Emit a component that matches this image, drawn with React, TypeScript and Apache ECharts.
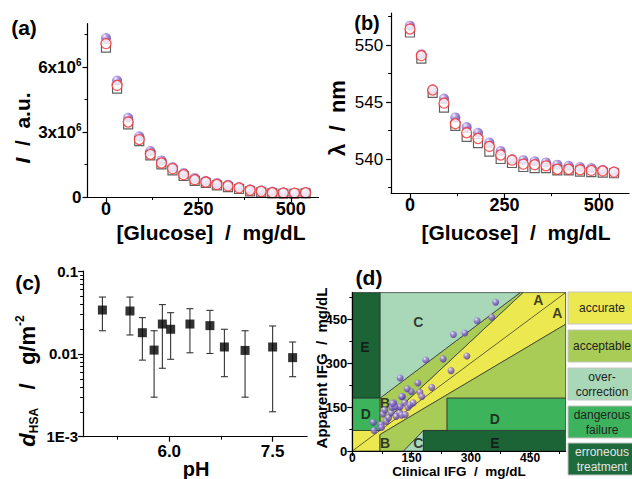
import React, { useEffect, useRef } from 'react';
import * as echarts from 'echarts';

// ---------- data ----------
const glucose = [0, 30, 60, 90, 120, 150, 180, 210, 240, 270, 300, 330, 360, 390, 420, 450, 480, 510, 540];
// (a) intensity in units of 10^6 a.u.
const intensityPurple = [7.34, 5.38, 3.66, 2.8, 2.12, 1.69, 1.38, 1.11, 0.88, 0.75, 0.65, 0.57, 0.46, 0.35, 0.31, 0.25, 0.22, 0.2, 0.22];
const intensityRed = [7.08, 5.15, 3.46, 2.65, 1.97, 1.57, 1.31, 1.03, 0.8, 0.69, 0.58, 0.51, 0.42, 0.31, 0.26, 0.2, 0.18, 0.18, 0.2];
const intensitySquare = [6.9, 5.0, 3.35, 2.58, 1.92, 1.51, 1.23, 0.97, 0.74, 0.65, 0.54, 0.46, 0.37, 0.26, 0.22, 0.17, 0.15, 0.15, 0.17];
// (b) wavelength, nm
const lambdaPurple = [551.7, 549.2, 546.1, 545.3, 543.65, 542.8, 542.3, 541.45, 540.7, 540.0, 539.9, 539.8, 539.7, 539.5, 539.4, 539.3, 539.2, 539.05, 538.9];
const lambdaRed = [551.4, 549.06, 546.05, 544.9, 543.1, 542.3, 541.8, 541.1, 540.35, 539.9, 539.55, 539.5, 539.4, 539.1, 539.1, 539.05, 539.0, 538.95, 538.85];
const lambdaSquare = [551.1, 548.8, 545.8, 544.5, 542.9, 541.95, 541.4, 540.65, 540.0, 539.65, 539.3, 539.2, 539.2, 539.0, 539.0, 538.9, 538.85, 538.8, 538.75];
// (c)
const pH = [5.03, 5.43, 5.61, 5.78, 5.9, 6.02, 6.3, 6.59, 6.8, 7.1, 7.5, 7.79];
const dHSA = [0.0338, 0.0329, 0.018, 0.0111, 0.0229, 0.0198, 0.0229, 0.0219, 0.0121, 0.011, 0.0121, 0.009];
const dHSAHigh = [0.0485, 0.0485, 0.0274, 0.019, 0.0393, 0.0314, 0.0351, 0.0335, 0.0198, 0.019, 0.0217, 0.0139];
const dHSALow = [0.019, 0.0169, 0.0084, 0.003, 0.0067, 0.0086, 0.0103, 0.0101, 0.0053, 0.003, 0.002, 0.0053];
// (d)
const clinicalIFG = [53, 55, 73, 74, 78, 82, 86, 92, 99, 100, 105, 111, 116, 120, 121, 125, 127, 133, 134, 141, 146, 149, 154, 139, 166, 171, 176, 121, 201, 186, 230, 250, 290, 256, 285, 316, 353, 363, 108, 102, 125];
const apparentIFG = [98, 70, 90, 80, 126, 140, 101, 113, 130, 149, 164, 118, 147, 130, 150, 122, 186, 164, 124, 149, 157, 203, 164, 212, 232, 200, 186, 249, 217, 310, 314, 274, 324, 397, 402, 444, 456, 507, 151, 162, 185];
const zoneColors = ['#ece84f', '#a9cc57', '#a8d8b8', '#1c6336', '#3db35c', '#a9cc57', '#a8d8b8', '#1c6336', '#3db35c'];
const zoneShapes = [
  [[0, 0], [70, 0], [70, 56], [540, 432], [540, 540], [432, 540], [70, 85], [70, 70], [0, 70]],
  [[70, 0], [130, 0], [180, 70], [240, 70], [240, 180], [540, 180], [540, 432], [70, 56]],
  [[130, 0], [180, 0], [180, 70]],
  [[180, 0], [540, 0], [540, 70], [180, 70]],
  [[240, 70], [540, 70], [540, 180], [240, 180]],
  [[70, 85], [432, 540], [425, 540], [70, 180]],
  [[70, 180], [425, 540], [70, 540]],
  [[0, 180], [70, 180], [70, 540], [0, 540]],
  [[0, 70], [70, 70], [70, 180], [0, 180]],
];
const zoneLabelText = ['C', 'E', 'B', 'D', 'B', 'C', 'D', 'E', 'A', 'A'];
const zoneLabelPos = [[167, 441], [32, 356], [83, 165], [34, 126], [83, 28], [167, 28], [361, 109], [361, 28], [471, 515], [519, 469]];
const legendLabels = ['accurate', 'acceptable', 'over-\ncorrection', 'dangerous\nfailure', 'erroneous\ntreatment'];
const legendColors = ['#ece84f', '#a9cc57', '#a8d8b8', '#3eb35e', '#1d6a3b'];
const legendTextColors = ['#222', '#222', '#222', '#222', '#e4e4e4'];

const FONT = '"Liberation Sans", Arial, sans-serif';

const sphere = () =>
  new echarts.graphic.RadialGradient(0.35, 0.3, 0.75, [
    { offset: 0, color: '#f4f0ff' },
    { offset: 0.35, color: '#9a80da' },
    { offset: 1, color: '#4a2d92' },
  ]);

function axisPair(kind: 'x' | 'y', gridIndex: number, type: string, min: number, max: number, major: number[], minor: number[], label: any) {
  const pos = kind === 'x' ? 'bottom' : 'left';
  const base: any = { type, gridIndex, min, max, position: pos, splitLine: { show: false }, z: 10 };
  if (type === 'log') base.logBase = 10;
  const main = {
    ...base,
    axisLine: { show: true, onZero: false, lineStyle: { color: '#000', width: 1.2 } },
    axisTick: { show: true, customValues: major, length: 5, lineStyle: { color: '#000', width: 1.2 } },
    axisLabel: { customValues: major, fontFamily: FONT, color: '#000', ...label },
  };
  const sub = {
    ...base,
    axisLine: { show: false, onZero: false },
    axisTick: { show: true, customValues: minor, length: 3, lineStyle: { color: '#000', width: 1 } },
    axisLabel: { show: false },
  };
  return [main, sub];
}

export default function App() {
  const ref = useRef<HTMLDivElement>(null);
  useEffect(() => {
    if (!ref.current) return;
    const chart = echarts.init(ref.current, undefined, { renderer: 'svg' });

    const supRich = {
      b: { fontSize: 17, fontWeight: 'bold', fontFamily: FONT, color: '#000', lineHeight: 20, verticalAlign: 'middle' },
      s: { fontSize: 10, fontWeight: 'bold', fontFamily: FONT, color: '#000', lineHeight: 10, verticalAlign: 'top' },
    };

    const xa = axisPair('x', 0, 'value', -50, 575, [0, 250, 500], [125, 375], { fontSize: 18, fontWeight: 'bold', margin: 3 });
    const ya = axisPair('y', 0, 'value', 0, 8, [0, 3, 6], [1.5, 4.5, 7.5], {
      margin: 6,
      formatter: (v: number) => (v === 0 ? '{b|0}' : `{b|${v}x10}{s|6}`),
      rich: supRich,
    });
    const xb = axisPair('x', 1, 'value', -50, 580, [0, 250, 500], [125, 375], { fontSize: 18, fontWeight: 'bold', margin: 3 });
    const yb = axisPair('y', 1, 'value', 537, 552.8, [540, 545, 550], [537.5, 542.5, 547.5, 552.5], { fontSize: 17, margin: 8 });
    const xc = axisPair('x', 2, 'value', 4.75, 8.0, [6.0, 7.5], [5.25, 6.75], {
      fontSize: 17, fontWeight: 'bold', margin: 6, formatter: (v: number) => v.toFixed(1),
    });
    const logMinor: number[] = [];
    [0.001, 0.01].forEach((d) => { for (let k = 2; k <= 9; k++) logMinor.push(+(d * k).toPrecision(3)); });
    const yc = axisPair('y', 2, 'log', 0.001, 0.1, [0.001, 0.01, 0.1], logMinor, {
      fontSize: 15, fontWeight: 'bold', margin: 5,
      formatter: (v: number) => (v < 0.005 ? '1E-3' : v < 0.05 ? '0.01' : '0.1'),
    });
    const xd = axisPair('x', 3, 'value', 0, 540, [0, 150, 300, 450], [75, 225, 375, 525], { fontSize: 12, lineHeight: 12, fontWeight: 'bold', margin: 1 });
    const yd = axisPair('y', 3, 'value', 0, 540, [0, 150, 300, 450], [75, 225, 375, 525], { fontSize: 13, fontWeight: 'bold', margin: 5 });

    const openCircle = { color: '#fff', borderColor: '#ff2a2a', borderWidth: 1.3 };
    const openSquare = { color: '#fff', borderColor: '#3a3a3a', borderWidth: 1.2 };

    const triple = (xi: number, yi: number, sq: number[], pu: number[], rd: number[]) => [
      { type: 'scatter', xAxisIndex: xi, yAxisIndex: yi, symbol: 'rect', symbolSize: 9, itemStyle: openSquare, data: glucose.map((g, i) => [g, sq[i]]), z: 3 },
      { type: 'scatter', xAxisIndex: xi, yAxisIndex: yi, symbol: 'circle', symbolSize: 10, itemStyle: { color: sphere() }, data: glucose.map((g, i) => [g, pu[i]]), z: 4 },
      { type: 'scatter', xAxisIndex: xi, yAxisIndex: yi, symbol: 'circle', symbolSize: 10, itemStyle: openCircle, data: glucose.map((g, i) => [g, rd[i]]), z: 5 },
    ];

    const bold = (size: number) => ({ fontSize: size, fontWeight: 'bold', fontFamily: FONT, fill: '#000' });

    const textEl = (text: string, x: number, y: number, size: number, extra: any = {}) => ({
      type: 'text', x, y, z: 20,
      style: { text, ...bold(size), align: 'center', verticalAlign: 'middle', ...extra },
    });

    const graphics: any[] = [
      textEl('(a)', 24, 27, 21),
      textEl('(b)', 367, 23, 20),
      textEl('(c)', 28, 282, 21),
      textEl('(d)', 369, 277, 21),
      textEl('[Glucose]  /  mg/dL', 211, 232, 21),
      textEl('[Glucose]  /  mg/dL', 516, 232, 21),
      textEl('pH', 196, 469, 20),
      textEl('Clinical IFG  /  mg/dL', 459, 471.5, 13.5, { lineHeight: 13 }),
      {
        type: 'text', x: 22, y: 128, rotation: Math.PI / 2, z: 20,
        style: {
          text: '{i|I}{n|  /  a.u.}', align: 'center', verticalAlign: 'middle',
          rich: {
            i: { fontSize: 21, fontWeight: 'bold', fontStyle: 'italic', fontFamily: FONT, fill: '#000' },
            n: { fontSize: 21, fontWeight: 'bold', fontFamily: FONT, fill: '#000' },
          },
        },
      },
      {
        type: 'text', x: 337, y: 118, rotation: Math.PI / 2, z: 20,
        style: { text: 'λ  /  nm', ...bold(22), align: 'center', verticalAlign: 'middle' },
      },
      {
        type: 'text', x: 27, y: 381, rotation: Math.PI / 2, z: 20,
        style: {
          text: '{d|d}{sub|HSA}{n|   /   g/m}{sup|-2}', align: 'center', verticalAlign: 'middle',
          rich: {
            d: { fontSize: 22, fontWeight: 'bold', fontStyle: 'italic', fontFamily: FONT, fill: '#000', lineHeight: 26, verticalAlign: 'middle' },
            sub: { fontSize: 12, fontWeight: 'bold', fontFamily: FONT, fill: '#000', lineHeight: 12, verticalAlign: 'bottom' },
            n: { fontSize: 22, fontWeight: 'bold', fontFamily: FONT, fill: '#000', lineHeight: 26, verticalAlign: 'middle' },
            sup: { fontSize: 12, fontWeight: 'bold', fontFamily: FONT, fill: '#000', lineHeight: 12, verticalAlign: 'top' },
          },
        },
      },
      {
        type: 'text', x: 321, y: 368, rotation: Math.PI / 2, z: 20,
        style: { text: 'Apparent IFG  /  mg/dL', ...bold(15), align: 'center', verticalAlign: 'middle' },
      },
    ];
    const boxTops = [292, 330, 368, 406, 443];
    legendLabels.forEach((lab, i) => {
      graphics.push({
        type: 'rect', z: 15, shape: { x: 568, y: boxTops[i], width: 72, height: 32 },
        style: { fill: legendColors[i], stroke: '#c4c4c4', lineWidth: 1 },
      });
      graphics.push({
        type: 'text', x: 602, y: boxTops[i] + 16, z: 16,
        style: { text: lab, fontSize: 12, fontFamily: FONT, fill: legendTextColors[i], align: 'center', verticalAlign: 'middle', lineHeight: 15 },
      });
    });

    const option: any = {
      animation: false,
      backgroundColor: '#fff',
      grid: [
        { left: 87.5, top: 23.7, width: 231, height: 173.3, outerBoundsMode: 'none' },
        { left: 391.1, top: 13.1, width: 238, height: 180.1, outerBoundsMode: 'none' },
        { left: 83.1, top: 271, width: 224, height: 165.7, outerBoundsMode: 'none' },
        { left: 352.3, top: 292.6, width: 213.3, height: 158.4, outerBoundsMode: 'none' },
      ],
      xAxis: [...xa, ...xb, ...xc, ...xd],
      yAxis: [...ya, ...yb, ...yc, ...yd],
      graphic: graphics,
      series: [
        ...triple(0, 0, intensitySquare, intensityPurple, intensityRed),
        ...triple(2, 2, lambdaSquare, lambdaPurple, lambdaRed),
        {
          type: 'custom', xAxisIndex: 4, yAxisIndex: 4, z: 3,
          data: pH.map((p, i) => [p, dHSALow[i], dHSAHigh[i]]),
          renderItem: (params: any, api: any) => {
            const x = api.value(0);
            const lo = api.coord([x, api.value(1)]);
            const hi = api.coord([x, api.value(2)]);
            const w = 3.5;
            const st = { stroke: '#333', lineWidth: 1.1 };
            return {
              type: 'group',
              children: [
                { type: 'line', shape: { x1: hi[0], y1: hi[1], x2: lo[0], y2: lo[1] }, style: st },
                { type: 'line', shape: { x1: hi[0] - w, y1: hi[1], x2: hi[0] + w, y2: hi[1] }, style: st },
                { type: 'line', shape: { x1: lo[0] - w, y1: lo[1], x2: lo[0] + w, y2: lo[1] }, style: st },
              ],
            };
          },
        },
        {
          type: 'scatter', xAxisIndex: 4, yAxisIndex: 4, symbol: 'rect', symbolSize: 9, z: 4,
          itemStyle: { color: '#000' }, data: pH.map((p, i) => [p, dHSA[i]]),
        },
        {
          type: 'custom', xAxisIndex: 6, yAxisIndex: 6, z: 1,
          data: zoneShapes.map((s) => s[0]),
          renderItem: (params: any, api: any) => {
            const pts = zoneShapes[params.dataIndex].map((p) => api.coord(p));
            return { type: 'polygon', shape: { points: pts }, style: { fill: zoneColors[params.dataIndex], stroke: '#2a2a2a', lineWidth: 0.7 } };
          },
        },
        {
          type: 'custom', xAxisIndex: 6, yAxisIndex: 6, z: 2,
          data: [[0, 0, 540, 540]],
          renderItem: (params: any, api: any) => {
            const a = api.coord([api.value(0), api.value(1)]);
            const b = api.coord([api.value(2), api.value(3)]);
            return { type: 'line', shape: { x1: a[0], y1: a[1], x2: b[0], y2: b[1] }, style: { stroke: '#2a2a2a', lineWidth: 0.7 } };
          },
        },
        {
          type: 'scatter', xAxisIndex: 6, yAxisIndex: 6, symbolSize: 0, z: 3,
          data: zoneLabelPos,
          label: {
            show: true, position: 'inside', fontSize: 14, fontWeight: 'bold', fontFamily: FONT, color: '#111',
            formatter: (p: any) => zoneLabelText[p.dataIndex],
          },
        },
        {
          type: 'scatter', xAxisIndex: 6, yAxisIndex: 6, symbol: 'circle', symbolSize: 7, z: 4,
          itemStyle: { color: sphere() },
          data: clinicalIFG.map((c, i) => [c, apparentIFG[i]]),
        },
      ],
    };
    chart.setOption(option);
    return () => chart.dispose();
  }, []);
  return <div ref={ref} style={{ position: 'fixed', left: 0, top: 0, width: 632, height: 479 }} />;
}
